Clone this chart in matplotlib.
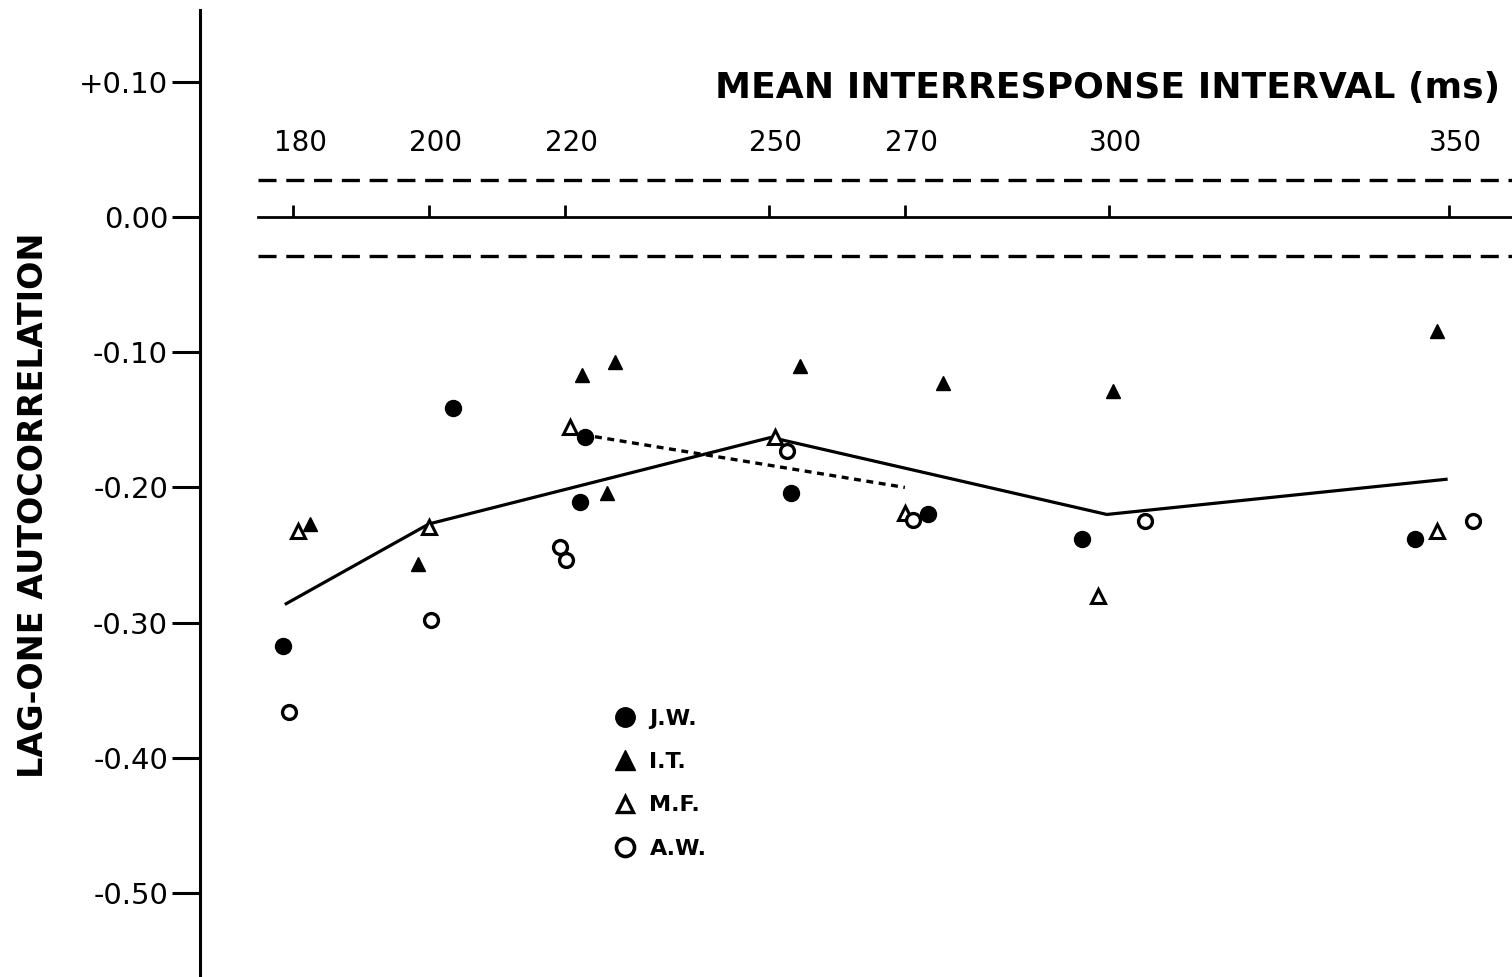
import numpy as np
import matplotlib.pyplot as plt
import matplotlib.transforms as mtransforms
from matplotlib.lines import Line2D

plt.rcParams['font.family'] = ['DejaVu Sans']
plt.rcParams['lines.scale_dashes'] = False

# subject data: mean interresponse interval (ms) vs lag-one autocorrelation
jw_x = [178.5, 203.5, 222.2, 222.9, 253.2, 273.4, 296.0, 345.1]
jw_y = [-0.317, -0.141, -0.211, -0.163, -0.204, -0.220, -0.238, -0.238]

it_x = [182.5, 198.4, 222.5, 227.4, 226.2, 254.6, 275.6, 300.6, 348.2]
it_y = [-0.227, -0.257, -0.117, -0.107, -0.204, -0.110, -0.123, -0.129, -0.084]

mf_x = [180.7, 200.0, 220.7, 250.9, 270.0, 298.4, 348.2]
mf_y = [-0.232, -0.229, -0.155, -0.163, -0.219, -0.280, -0.232]

aw_x = [179.4, 200.3, 219.3, 220.1, 252.6, 271.2, 305.3, 353.5]
aw_y = [-0.366, -0.298, -0.244, -0.254, -0.173, -0.224, -0.225, -0.225]

# group mean line and the dotted segment
mean_x = [179.0, 200.0, 250.3, 299.7, 349.6]
mean_y = [-0.286, -0.227, -0.163, -0.220, -0.194]
dot_x = [222.6, 270.0]
dot_y = [-0.161, -0.200]

# confidence band around zero
band_hi = 0.027
band_lo = -0.029

iri_ticks = [180, 200, 220, 250, 270, 300, 350]
y_ticks = [0.10, 0.0, -0.10, -0.20, -0.30, -0.40, -0.50]
y_labels = ['+0.10', '0.00', '-0.10', '-0.20', '-0.30', '-0.40', '-0.50']

fig = plt.figure(figsize=(15.12, 9.77), dpi=100)
ax = fig.add_axes([200/1512, 0, 1312/1512, 967/977])
xlim = (166.32, 359.3)
ax.set_xlim(xlim)
ax.set_ylim(-0.5621, 0.1531)

for s in ['top', 'right', 'bottom']:
    ax.spines[s].set_visible(False)
ax.spines['left'].set_linewidth(2.2)
ax.set_xticks([])
ax.set_yticks(y_ticks)
ax.set_yticklabels(y_labels, fontsize=21)
ax.tick_params(axis='y', direction='out', length=20, width=2.2, pad=3)
ax.set_ylabel('LAG-ONE AUTOCORRELATION', fontsize=24, fontweight='bold')
ax.yaxis.set_label_coords(-0.114, 0.488)

# zero line and dashed limits
x0 = 174.9
ax.plot([x0, xlim[1]], [0, 0], color='black', lw=2.0)
ax.plot([x0, xlim[1]], [band_hi, band_hi], color='black', lw=2.4, dashes=(13, 7))
ax.plot([x0, xlim[1]], [band_lo, band_lo], color='black', lw=2.4, dashes=(13, 7))

# interval scale on the zero line
ax.vlines(iri_ticks, 0, 0.009, color='black', lw=2.0)
lab_tr = mtransforms.offset_copy(ax.transData, fig=fig, x=7, y=0, units='dots')
for t in iri_ticks:
    ax.text(t, 0.0547, str(t), ha='center', va='center', fontsize=20, transform=lab_tr)
ax.text(357.6, 0.0954, 'MEAN INTERRESPONSE INTERVAL (ms)', ha='right', va='center',
        fontsize=26, fontweight='bold')

ax.plot(mean_x, mean_y, color='black', lw=2.3)
ax.plot(dot_x, dot_y, color='black', lw=2.4, dashes=(5, 4))

ax.plot(jw_x, jw_y, 'o', ms=11.5, color='black', ls='none')
ax.plot(it_x, it_y, '^', ms=10, color='black', ls='none')
ax.plot(mf_x, mf_y, '^', ms=10, mfc='white', mec='black', mew=2.2, ls='none')
ax.plot(aw_x, aw_y, 'o', ms=10, mfc='white', mec='black', mew=2.4, ls='none')

handles = [
    Line2D([], [], marker='o', ms=14, color='black', ls='none'),
    Line2D([], [], marker='^', ms=14, color='black', ls='none'),
    Line2D([], [], marker='^', ms=12, mfc='white', mec='black', mew=2.4, ls='none'),
    Line2D([], [], marker='o', ms=13, mfc='white', mec='black', mew=2.6, ls='none'),
]
ax.legend(handles, ['J.W.', 'I.T.', 'M.F.', 'A.W.'], loc='upper left',
          bbox_to_anchor=(0.307, 0.289), frameon=False, borderpad=0,
          handlelength=1.0, handletextpad=0.6, labelspacing=1.05,
          prop={'size': 16, 'weight': 'bold'})

fig.savefig('out.png', dpi=100)
